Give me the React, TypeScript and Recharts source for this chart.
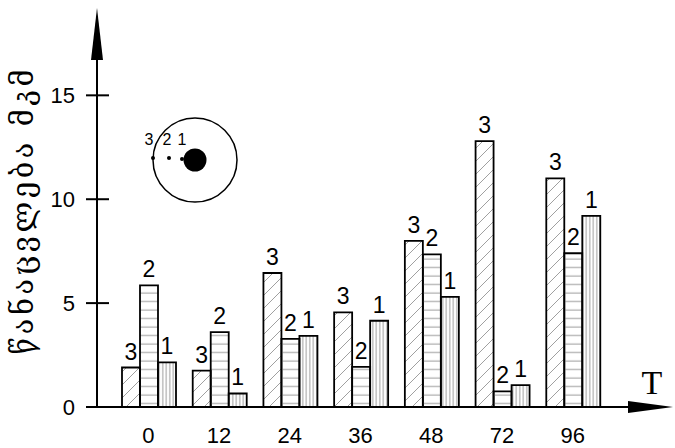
import React from 'react';
import { BarChart, Bar, XAxis, YAxis, LabelList } from 'recharts';

const categories = ['0', '12', '24', '36', '48', '72', '96'];
const series3 = [1.9, 1.75, 6.45, 4.55, 8.0, 12.8, 11.0];
const series2 = [5.85, 3.6, 3.28, 1.93, 7.35, 0.75, 7.4];
const series1 = [2.15, 0.65, 3.42, 4.15, 5.3, 1.05, 9.2];
const yTicks = [0, 5, 10, 15];
const yLabel = 'წანაცვლება მკმ';
const xLabel = 'T';

const data = categories.map((c, i) => ({ t: c, s3: series3[i], s2: series2[i], s1: series1[i] }));

const numFont = '"Liberation Sans", Arial, sans-serif';

const YTick = (props: any) => {
  const { y, payload } = props;
  return (
    <g>
      <line x1={86} x2={109} y1={y} y2={y} stroke="#000" strokeWidth={2} />
      <text x={75} y={y + 8} textAnchor="end" fontSize={22} fontFamily={numFont} fill="#000">
        {payload.value}
      </text>
    </g>
  );
};

const XTick = (props: any) => {
  const { x, payload } = props;
  return (
    <text x={x} y={443} textAnchor="middle" fontSize={22} fontFamily={numFont} fill="#000">
      {payload.value}
    </text>
  );
};

const makeLabel = (name: string) => (props: any) => {
  const { x, y, width } = props;
  return (
    <text x={x + width / 2} y={y - 8} textAnchor="middle" fontSize={23} fontFamily={numFont} fill="#000">
      {name}
    </text>
  );
};

export default function App() {
  return (
    <div style={{ position: 'absolute', left: 0, top: 0, width: 675, height: 448, background: '#fff' }}>
      <BarChart
        width={675}
        height={448}
        data={data}
        margin={{ top: 33, right: 67, bottom: 0, left: 0 }}
        barCategoryGap={9}
        barGap={0}
      >
        <defs>
          <pattern id="diag" patternUnits="userSpaceOnUse" width="13" height="13">
            <line x1="0" y1="13" x2="13" y2="0" stroke="#a0a0a0" strokeWidth="1" />
          </pattern>
          <pattern id="horiz" patternUnits="userSpaceOnUse" width="8" height="8.5">
            <line x1="0" y1="4" x2="8" y2="4" stroke="#9a9a9a" strokeWidth="1" />
          </pattern>
          <pattern id="vert" patternUnits="userSpaceOnUse" width="3.5" height="8">
            <line x1="1.75" y1="0" x2="1.75" y2="8" stroke="#9a9a9a" strokeWidth="1" />
          </pattern>
        </defs>
        <XAxis
          dataKey="t"
          height={41}
          axisLine={false}
          tickLine={false}
          tick={<XTick />}
          padding={{ left: 16, right: 0 }}
          interval={0}
        />
        <YAxis
          width={97}
          domain={[0, 18]}
          ticks={yTicks}
          axisLine={false}
          tickLine={false}
          tick={<YTick />}
          allowDataOverflow
        />
        <Bar dataKey="s3" fill="url(#diag)" stroke="#000" strokeWidth={1.8} isAnimationActive={false}>
          <LabelList dataKey="s3" content={makeLabel('3')} />
        </Bar>
        <Bar dataKey="s2" fill="url(#horiz)" stroke="#000" strokeWidth={1.8} isAnimationActive={false}>
          <LabelList dataKey="s2" content={makeLabel('2')} />
        </Bar>
        <Bar dataKey="s1" fill="url(#vert)" stroke="#000" strokeWidth={1.8} isAnimationActive={false}>
          <LabelList dataKey="s1" content={makeLabel('1')} />
        </Bar>
      </BarChart>
      <svg
        width={675}
        height={448}
        style={{ position: 'absolute', left: 0, top: 0, pointerEvents: 'none' }}
      >
        <line x1={97} y1={407} x2={97} y2={55} stroke="#000" strokeWidth={2} />
        <polygon points="97,8 91,60 103,60" fill="#000" />
        <line x1={86} y1={407} x2={632} y2={407} stroke="#000" strokeWidth={2} />
        <polygon points="673,407 628,401 628,413" fill="#000" />
        <text x={652} y={394} textAnchor="middle" fontSize={34} fontFamily='"Liberation Serif", "DejaVu Serif", serif' fill="#000">
          {xLabel}
        </text>
        <text
          transform="translate(33,212) rotate(-90)"
          textAnchor="middle"
          fontSize={29}
          fontFamily='"DejaVu Serif", serif'
          textLength={285}
          lengthAdjust="spacing"
          fill="#000"
        >
          {yLabel}
        </text>
        <circle cx={195} cy={160} r={42} fill="none" stroke="#000" strokeWidth={1.5} />
        <circle cx={195} cy={160} r={11.5} fill="#000" />
        <circle cx={153} cy={158} r={2} fill="#000" />
        <circle cx={169} cy={158} r={2} fill="#000" />
        <circle cx={182} cy={159} r={2} fill="#000" />
        <text x={149} y={145} textAnchor="middle" fontSize={16} fontFamily={numFont}>3</text>
        <text x={167} y={145} textAnchor="middle" fontSize={16} fontFamily={numFont}>2</text>
        <text x={182} y={145} textAnchor="middle" fontSize={16} fontFamily={numFont}>1</text>
      </svg>
    </div>
  );
}
